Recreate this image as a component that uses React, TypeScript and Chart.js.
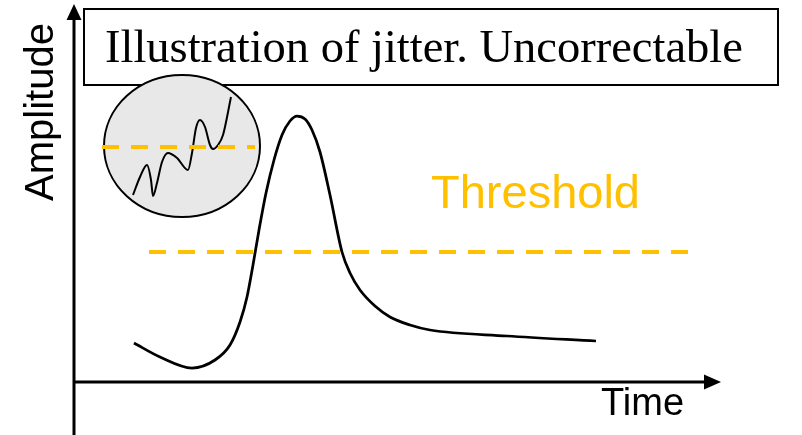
import React, { useEffect, useRef } from "react";
import { Chart, registerables } from "chart.js";

Chart.register(...registerables);

// ---- Data (time / amplitude units; axis origin at 0,0) ----
const pulseTime = [6.0, 8.6, 11.8, 14.1, 15.6, 16.6, 17.3, 17.9, 18.5, 19.2, 20.0, 20.8, 21.6, 22.3, 23.1, 23.8, 24.6, 25.6, 26.8, 27.6, 28.6, 30.1, 31.6, 33.6, 35.6, 43.3, 52.2];
const pulseAmp = [3.9, 2.5, 1.4, 2.2, 3.7, 6.0, 8.5, 11.7, 15.2, 18.9, 22.2, 24.7, 26.1, 26.6, 26.3, 25.2, 23.0, 18.7, 13.0, 10.9, 9.2, 7.6, 6.5, 5.7, 5.2, 4.6, 4.1];

const zoomTime = [5.9, 6.6, 7.3, 7.7, 7.9, 8.3, 8.8, 9.4, 10.3, 11.4, 11.8, 12.2, 12.6, 13.1, 13.6, 13.9, 14.4, 14.9, 15.7];
const zoomAmp = [18.7, 20.5, 21.7, 20.2, 18.6, 19.9, 22.0, 22.9, 22.4, 21.2, 22.9, 25.4, 26.2, 25.5, 23.7, 23.3, 23.7, 24.7, 28.5];

const thresholdLevel = 13.0;
const thresholdSpan = [7.5, 61.6];
const zoomThresholdLevel = 23.5;
const zoomThresholdSpan = [2.8, 18.1];

const titleText = "Illustration of jitter. Uncorrectable";
const xLabel = "Time";
const yLabel = "Amplitude";
const thresholdLabel = "Threshold";

const ORANGE = "#FFC000";

const diagramPlugin = {
  id: "diagram",
  beforeDatasetsDraw(chart: any) {
    const { ctx } = chart;
    const xs = chart.scales.x;
    const ys = chart.scales.y;
    const X = (v: number) => xs.getPixelForValue(v);
    const Y = (v: number) => ys.getPixelForValue(v);
    ctx.save();

    // Y axis with arrow
    ctx.strokeStyle = "#000";
    ctx.fillStyle = "#000";
    ctx.lineWidth = 3;
    ctx.beginPath();
    ctx.moveTo(X(0), Y(-5.3));
    ctx.lineTo(X(0), Y(36.4));
    ctx.stroke();
    ctx.beginPath();
    ctx.moveTo(X(0), Y(37.8));
    ctx.lineTo(X(0) - 7.5, Y(36.2));
    ctx.lineTo(X(0) + 7.5, Y(36.2));
    ctx.closePath();
    ctx.fill();

    // X axis with arrow
    ctx.beginPath();
    ctx.moveTo(X(0), Y(0));
    ctx.lineTo(X(63.2), Y(0));
    ctx.stroke();
    ctx.beginPath();
    ctx.moveTo(X(64.7), Y(0));
    ctx.lineTo(X(63.0), Y(0) - 7.5);
    ctx.lineTo(X(63.0), Y(0) + 7.5);
    ctx.closePath();
    ctx.fill();

    // Title box
    ctx.lineWidth = 2;
    ctx.fillStyle = "#fff";
    const bx = X(1.0), by = Y(37.3), bw = X(70.4) - X(1.0), bh = Y(29.7) - Y(37.3);
    ctx.fillRect(bx, by, bw, bh);
    ctx.strokeRect(bx, by, bw, bh);
    ctx.fillStyle = "#000";
    ctx.font = '46.5px "Liberation Serif", "Times New Roman", serif';
    ctx.textAlign = "left";
    ctx.textBaseline = "alphabetic";
    ctx.fillText(titleText, X(3.1), Y(32.0));

    // Zoom ellipse
    const cx = X(10.8), cy = Y(23.6);
    const rx = X(10.8 + 7.8) - cx;
    const ry = Y(23.6 - 7.1) - cy;
    ctx.beginPath();
    ctx.ellipse(cx, cy, rx, ry, 0, 0, Math.PI * 2);
    ctx.fillStyle = "#E8E8E8";
    ctx.fill();
    ctx.lineWidth = 2;
    ctx.strokeStyle = "#000";
    ctx.stroke();
    ctx.restore();
  },
  afterDatasetsDraw(chart: any) {
    const { ctx } = chart;
    const xs = chart.scales.x;
    const ys = chart.scales.y;
    const X = (v: number) => xs.getPixelForValue(v);
    const Y = (v: number) => ys.getPixelForValue(v);
    ctx.save();
    ctx.textBaseline = "alphabetic";
    ctx.textAlign = "left";
    ctx.fillStyle = ORANGE;
    ctx.font = '47px "Liberation Sans", Arial, sans-serif';
    ctx.fillText(thresholdLabel, X(35.7), Y(17.4));

    ctx.fillStyle = "#000";
    ctx.font = '38px "Liberation Sans", Arial, sans-serif';
    ctx.fillText(xLabel, X(52.7), Y(-3.3));

    ctx.font = '40px "Liberation Sans", Arial, sans-serif';
    ctx.translate(X(-2.1), Y(27.0));
    ctx.rotate(-Math.PI / 2);
    ctx.textAlign = "center";
    ctx.fillText(yLabel, 0, 0);
    ctx.restore();
  },
};

export default function App() {
  const canvasRef = useRef<HTMLCanvasElement | null>(null);

  useEffect(() => {
    if (!canvasRef.current) return;
    const pts = (xs: number[], ys: number[]) => xs.map((x, i) => ({ x, y: ys[i] }));
    const chart = new Chart(canvasRef.current, {
      type: "scatter",
      data: {
        datasets: [
          {
            label: "zoom threshold",
            data: thresholdSpanPts(zoomThresholdSpan, zoomThresholdLevel),
            showLine: true,
            borderColor: ORANGE,
            borderWidth: 4,
            borderDash: [17, 12],
            pointRadius: 0,
          },
          {
            label: "zoom signal",
            data: pts(zoomTime, zoomAmp),
            showLine: true,
            borderColor: "#000",
            borderWidth: 2,
            pointRadius: 0,
            cubicInterpolationMode: "monotone",
          },
          {
            label: "threshold",
            data: thresholdSpanPts(thresholdSpan, thresholdLevel),
            showLine: true,
            borderColor: ORANGE,
            borderWidth: 4,
            borderDash: [17, 12],
            pointRadius: 0,
          },
          {
            label: "pulse",
            data: pts(pulseTime, pulseAmp),
            showLine: true,
            borderColor: "#000",
            borderWidth: 2.75,
            pointRadius: 0,
            cubicInterpolationMode: "monotone",
          },
        ],
      },
      options: {
        animation: false,
        responsive: false,
        devicePixelRatio: 1,
        layout: { padding: 0 },
        plugins: { legend: { display: false }, tooltip: { enabled: false } },
        scales: {
          x: { type: "linear", min: -7.4, max: 72.8, display: false },
          y: { type: "linear", min: -5.3, max: 38.2, display: false },
        },
      } as any,
      plugins: [diagramPlugin],
    });
    return () => chart.destroy();
  }, []);

  return (
    <div style={{ position: "fixed", left: 0, top: 0, width: 802, height: 435, background: "#fff" }}>
      <canvas ref={canvasRef} width={802} height={435} style={{ display: "block" }} />
    </div>
  );
}

function thresholdSpanPts(span: number[], level: number) {
  return span.map((x) => ({ x, y: level }));
}
